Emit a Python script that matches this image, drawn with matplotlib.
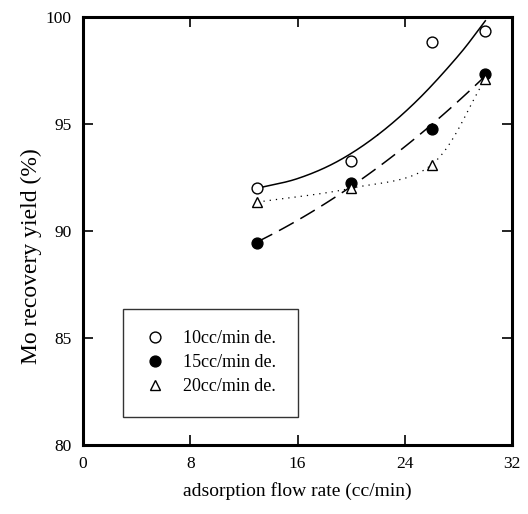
"""
Mo recovery yield vs adsorption flow rate
"""
import numpy as np
import matplotlib
matplotlib.use('Agg')
import matplotlib.pyplot as plt
from matplotlib.lines import Line2D

plt.rcParams['font.family'] = ['Liberation Serif', 'DejaVu Serif']

''' ==== data ==== '''
flow = [13, 20, 26, 30]                      # adsorption flow rate (cc/min)
y_10 = [92.0, 93.25, 98.85, 99.35]           # 10cc/min de.
y_15 = [89.45, 92.25, 94.75, 97.35]          # 15cc/min de.
y_20 = [91.35, 92.0, 93.1, 97.1]             # 20cc/min de.
# trend curve drawn for 10cc/min de.
fit_x = [13, 16, 19, 22, 25, 28, 30]
fit_y = [92.0, 92.45, 93.26, 94.5, 96.15, 98.2, 99.82]
labels = ['10cc/min de.', '15cc/min de.', '20cc/min de.']


def catmull(x, y, n=40):
    # smooth curve through the points
    x = np.asarray(x, float); y = np.asarray(y, float)
    px = np.concatenate(([2*x[0]-x[1]], x, [2*x[-1]-x[-2]]))
    py = np.concatenate(([2*y[0]-y[1]], y, [2*y[-1]-y[-2]]))
    xs, ys = [], []
    for i in range(1, len(px)-2):
        t = np.linspace(0, 1, n)
        for p, out in ((px, xs), (py, ys)):
            p0, p1, p2, p3 = p[i-1], p[i], p[i+1], p[i+2]
            out.append(0.5*((2*p1) + (-p0+p2)*t + (2*p0-5*p1+4*p2-p3)*t**2 + (-p0+3*p1-3*p2+p3)*t**3))
    return np.concatenate(xs), np.concatenate(ys)


fig = plt.figure(figsize=(5.28, 5.14), dpi=100)
ax = fig.add_axes([0.157, 0.134, 0.813, 0.833])

sx, sy = catmull(fit_x, fit_y)
ax.plot(sx, sy, '-', color='k', lw=1.1, zorder=2)
xx = np.linspace(13, 30, 100)
c15 = np.polyfit(flow, y_15, 2)
ax.plot(xx, np.polyval(c15, xx), '--', color='k', lw=1.1, dashes=(11, 5), zorder=2)
sx, sy = catmull(flow, y_20)
ax.plot(sx, sy, color='k', lw=0.9, dashes=(1, 4), zorder=2)

ms = 7.8
ax.plot(flow, y_10, 'o', ms=ms, mfc='white', mec='k', mew=1.0, ls='none', zorder=3)
ax.plot(flow, y_15, 'o', ms=ms, mfc='k', mec='k', mew=1.0, ls='none', zorder=3)
ax.plot(flow, y_20, '^', ms=ms, mfc='white', mec='k', mew=1.0, ls='none', zorder=3)

ax.set_xlim(0, 32)
ax.set_ylim(80, 100)
ax.set_xticks([0, 8, 16, 24, 32])
ax.set_yticks([80, 85, 90, 95, 100])
ax.tick_params(direction='in', length=7, width=1.2, top=True, right=True, labelsize=12.5, pad=8)
for axis in ['top', 'bottom', 'left', 'right']:
    ax.spines[axis].set_linewidth(2.2)

ax.set_xlabel('adsorption flow rate (cc/min)', fontsize=14, labelpad=7)
ax.set_ylabel('Mo recovery yield (%)', fontsize=17)
ax.yaxis.set_label_coords(-0.095, 0.442)

handles = [Line2D([], [], marker='o', ls='none', ms=ms, mfc='white', mec='k'),
           Line2D([], [], marker='o', ls='none', ms=ms, mfc='k', mec='k'),
           Line2D([], [], marker='^', ls='none', ms=ms, mfc='white', mec='k')]
leg = ax.legend(handles, labels, loc='lower left', bbox_to_anchor=(0.093, 0.066),
                fontsize=13, frameon=True, fancybox=False, borderpad=1.2,
                handlelength=1.2, handletextpad=0.95, labelspacing=0.38, borderaxespad=0)
leg.get_frame().set_edgecolor('k')
leg.get_frame().set_linewidth(1.0)

plt.savefig('out.png', dpi=100)
plt.close()
